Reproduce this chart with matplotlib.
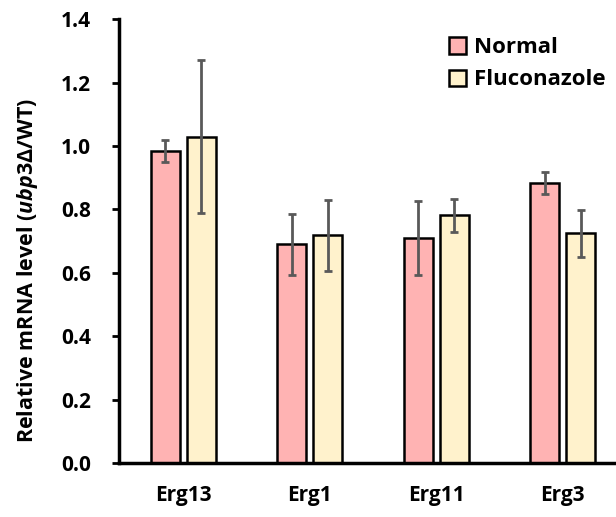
import matplotlib
matplotlib.use("Agg")
import matplotlib.pyplot as plt
import numpy as np

plt.rcParams['font.family'] = ['Open Sans', 'DejaVu Sans']
plt.rcParams['font.weight'] = 'bold'
plt.rcParams['mathtext.fontset'] = 'custom'
plt.rcParams['mathtext.rm'] = 'Open Sans:bold'
plt.rcParams['mathtext.it'] = 'Open Sans:italic:bold'

# values
genes = ['Erg13', 'Erg1', 'Erg11', 'Erg3']
normal = [0.984, 0.690, 0.710, 0.883]
normal_err = [0.035, 0.096, 0.116, 0.035]
flucon = [1.029, 0.718, 0.782, 0.724]
flucon_err = [0.242, 0.111, 0.052, 0.075]

fig = plt.figure(figsize=(6.16, 5.17), dpi=100)
ax = fig.add_axes([0.193, 0.1044, 0.807, 0.8586])

x = np.arange(len(genes))
w = 0.23
off = 0.142
err_kw = dict(ecolor='#595959', elinewidth=2, capsize=3.2, capthick=2)
ax.bar(x - off, normal, w, yerr=normal_err, color='#FFB3B3', edgecolor='black',
       linewidth=1.8, error_kw=err_kw, label='Normal')
ax.bar(x + off, flucon, w, yerr=flucon_err, color='#FFF2CC', edgecolor='black',
       linewidth=1.8, error_kw=err_kw, label='Fluconazole')

ax.set_xlim(-0.51, 3.42)
ax.set_ylim(0, 1.4)
ax.set_yticks(np.arange(0, 1.41, 0.2))
ax.set_yticklabels(['%.1f' % v for v in np.arange(0, 1.41, 0.2)])
ax.set_xticks(x)
ax.set_xticklabels(genes)
ax.tick_params(axis='y', length=5, width=2, labelsize=15, pad=15)
ax.tick_params(axis='x', length=0, labelsize=15, pad=16)

for s in ['top', 'right']:
    ax.spines[s].set_visible(False)
for s in ['left', 'bottom']:
    ax.spines[s].set_linewidth(2.5)

ax.set_ylabel(r'Relative mRNA level ($\mathit{ubp3Δ}$/WT)', fontsize=15.5,
              fontweight='bold')
ax.yaxis.set_label_coords(-0.158, 0.435)

ax.legend(loc='upper left', bbox_to_anchor=(0.715, 0.945), bbox_transform=fig.transFigure,
          frameon=False, fontsize=16, handlelength=0.75, handleheight=0.75,
          handletextpad=0.35, labelspacing=0.5, borderaxespad=0)

fig.savefig('out.png', dpi=100)
